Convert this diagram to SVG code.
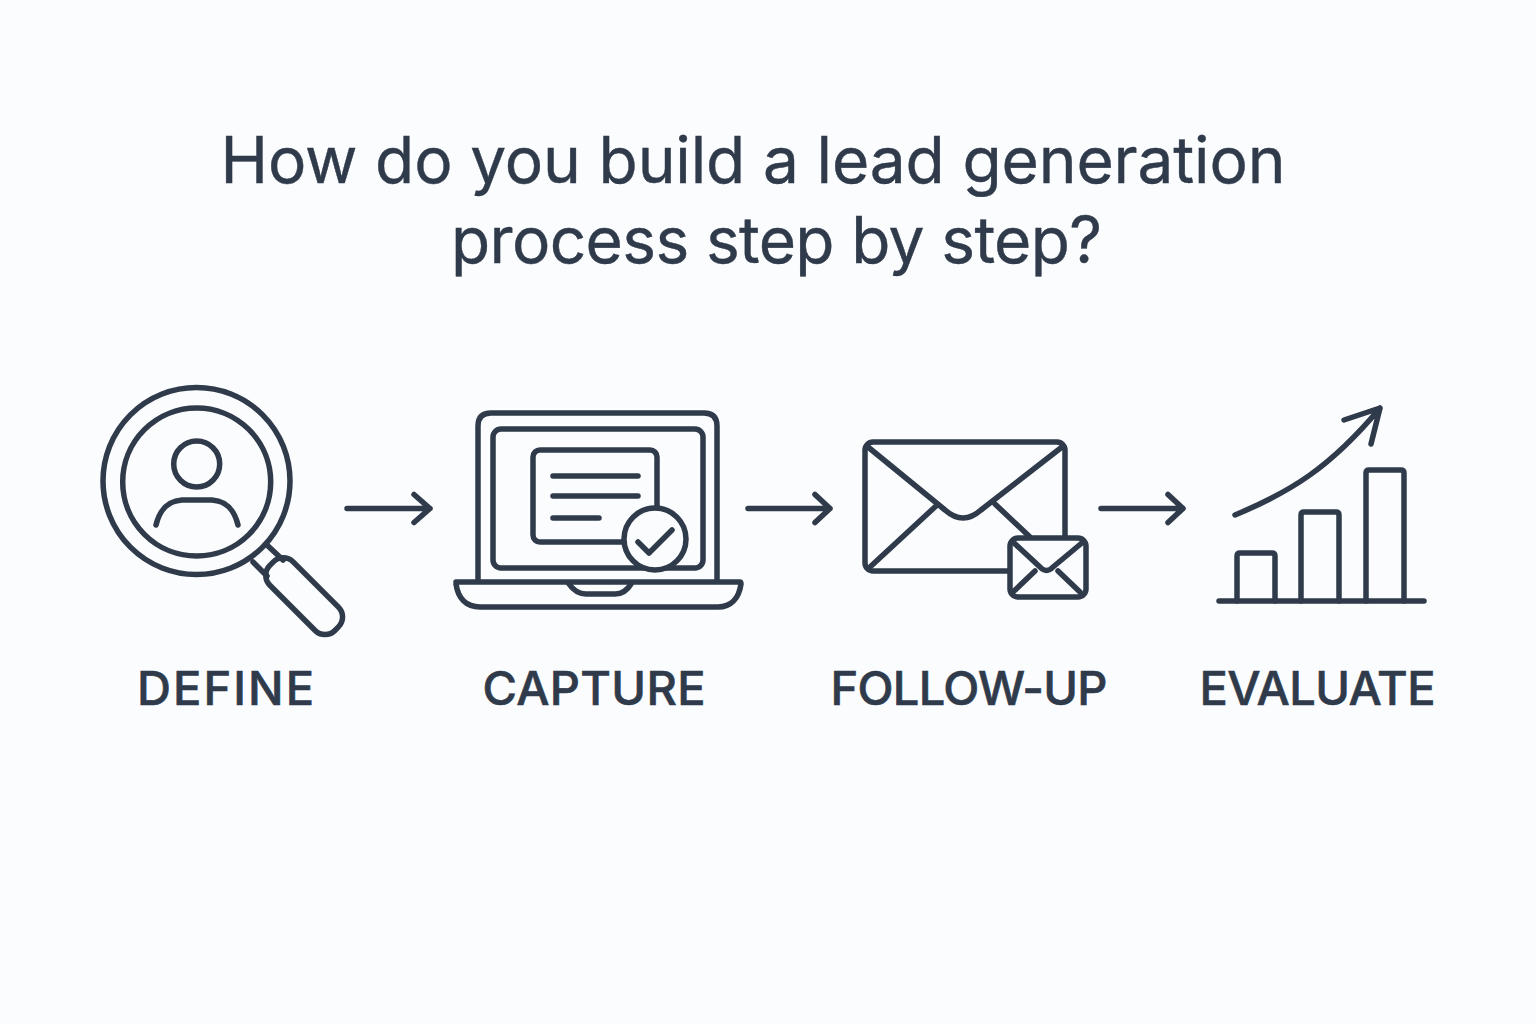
<svg xmlns="http://www.w3.org/2000/svg" width="1536" height="1024" viewBox="0 0 1536 1024">
<style>
.s{fill:none;stroke:#2f3a4b;stroke-width:5.500;stroke-linecap:round;stroke-linejoin:round}
.f{fill:#fbfcfe;stroke:#2f3a4b;stroke-width:5.500;stroke-linecap:round;stroke-linejoin:round}
.t{font-family:"Inter","Noto Sans",sans-serif;fill:#2f3a4b;text-anchor:middle;font-variant-ligatures:none}
.title{font-size:64px;font-weight:400;stroke:#2f3a4b;stroke-width:.4}
.label{font-size:47px;font-weight:500;stroke:#2f3a4b;stroke-width:.6}
</style>
<rect width="1536" height="1024" fill="#fbfcfe"/>
<g id="title">
<text class="t title" x="753" y="183" textLength="1065" lengthAdjust="spacing">How do you build a lead generation</text>
<text class="t title" x="776.500" y="263" textLength="651" lengthAdjust="spacing">process step by step?</text>
</g>
<g id="connectors">
<path class="s" d="M347 508.500H430M414 494.500L430 508.500L414 522.500"/>
<path class="s" d="M748 508.500H830M815 494.500L830 508.500L815 522.500"/>
<path class="s" d="M1101 508.500H1183M1168 494.500L1183 508.500L1168 522.500"/>
</g>
<g id="define">
<circle class="s" cx="196.500" cy="481" r="93.500"/>
<circle class="s" cx="196.700" cy="482" r="74"/>
<circle class="s" cx="196.700" cy="464" r="23"/>
<path class="s" d="M156 525C160 509 168 501 182 500H212C226 501 234 509 238 525"/>
<path class="s" d="M253 562L267 576M268 546L283 560"/>
<rect class="s" x="258" y="580" width="92" height="33" rx="14" transform="rotate(45 304.500 596.500)"/>
<text class="t label" x="225.500" y="705" textLength="177" lengthAdjust="spacing">DEFINE</text>
</g>
<g id="capture">
<path class="s" d="M478 580V426Q478 413 491 413H704Q717 413 717 426V580"/>
<rect class="s" x="493" y="429" width="210" height="139" rx="8"/>
<rect class="s" x="533" y="450" width="124" height="92" rx="7"/>
<path class="s" d="M553 476H638M553 496H638M553 518H599"/>
<circle class="f" cx="655" cy="539" r="31"/>
<path class="s" d="M638 542L649 553L672 530"/>
<path class="s" d="M456 582H740Q741 582 741 584C739 598 731 607 718 607H480C466 607 458 598 456 584Q456 582 458 582Z"/>
<path class="s" d="M569 584Q576 594 586 594H615Q625 594 631 584"/>
<text class="t label" x="594" y="705" textLength="223" lengthAdjust="spacing">CAPTURE</text>
</g>
<g id="follow-up">
<rect class="s" x="865" y="442" width="200" height="129" rx="8"/>
<path class="s" d="M868 447L945 510Q963 526 981 510L1062 447M870 567L936 506M995 504L1030 537"/>
<rect class="f" x="1010" y="538" width="76" height="59" rx="8"/>
<path class="s" d="M1013 542L1040 567Q1046.500 574 1053 567L1083 542M1013 592L1035 571M1058 571L1080 592"/>
<text class="t label" x="969" y="705" textLength="277" lengthAdjust="spacing">FOLLOW-UP</text>
</g>
<g id="evaluate">
<path class="s" d="M1219 601H1424"/>
<path class="s" d="M1237 601V556Q1237 553 1240 553H1272Q1275 553 1275 556V601"/>
<path class="s" d="M1301 601V515Q1301 512 1304 512H1336Q1339 512 1339 515V601"/>
<path class="s" d="M1366 601V473Q1366 470 1369 470H1401Q1404 470 1404 473V601"/>
<path class="s" d="M1235 515C1290 492 1330 468 1380 408M1344 420L1380 408L1371 444"/>
<text class="t label" x="1317.500" y="705" textLength="236" lengthAdjust="spacing">EVALUATE</text>
</g>
</svg>
